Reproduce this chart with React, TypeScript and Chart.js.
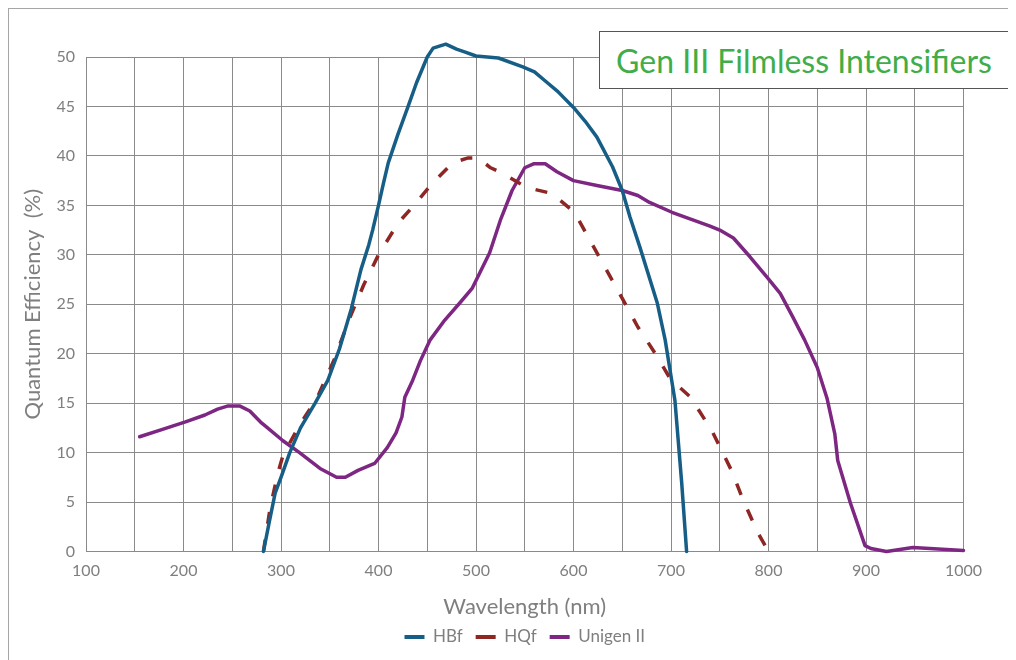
import React, { useEffect, useRef } from "react";
import { Chart, registerables } from "chart.js";

Chart.register(...registerables);

// ---- data (wavelength nm / quantum efficiency %) ----
const hbfNm = [282, 288, 294, 300, 309, 320, 335, 348, 360, 372, 382, 390, 394, 400, 405, 410, 420, 430, 439, 450, 456, 469, 480, 489, 500, 523, 548, 560, 572, 584, 600, 612, 624, 640, 650, 658, 668, 686, 694, 704, 711, 716];
const hbfQe = [0, 3, 5.9, 7.5, 10, 12.5, 15, 17.3, 20.5, 24.5, 28.5, 31, 32.5, 35, 37.2, 39.3, 42.2, 44.9, 47.4, 50, 50.9, 51.3, 50.8, 50.5, 50.1, 49.9, 49.0, 48.5, 47.5, 46.5, 44.9, 43.5, 41.9, 38.9, 36.5, 33.8, 30.8, 25.1, 21.4, 15.3, 6.9, 0];

const hqfNm = [282, 289, 297, 302, 319, 337, 355, 370, 385, 400, 420, 439, 455, 476, 492, 502, 515, 528, 552, 578, 601, 615, 632, 650, 666, 684, 699, 720, 742, 762, 774, 789, 800];
const hqfQe = [0, 4.5, 8, 9.7, 12.8, 15.5, 19.5, 23.5, 27, 30, 33.2, 35.3, 37.2, 39.3, 39.8, 39.8, 38.8, 38.2, 36.8, 36.2, 34.3, 31.8, 28.8, 25.6, 22.7, 20, 17.5, 15.6, 12.2, 8.2, 5.2, 1.9, 0];

const unigenNm = [155, 180, 202, 222, 235, 245, 258, 268, 280, 285, 302, 319, 340, 357, 366, 379, 396, 409, 418, 424, 427, 435, 443, 453, 468, 484, 496, 514, 525, 537, 550, 559, 571, 583, 600, 624, 650, 666, 678, 701, 723, 740, 750, 764, 781, 798, 812, 825, 837, 850, 860, 868, 871, 884, 899, 905, 921, 948, 1000];
const unigenQe = [11.6, 12.4, 13.1, 13.8, 14.4, 14.7, 14.7, 14.2, 13, 12.6, 11.2, 10, 8.4, 7.5, 7.5, 8.2, 8.9, 10.5, 12, 13.6, 15.6, 17.3, 19.3, 21.4, 23.4, 25.2, 26.6, 30.2, 33.5, 36.5, 38.8, 39.2, 39.2, 38.4, 37.5, 37, 36.5, 36, 35.3, 34.3, 33.5, 32.9, 32.5, 31.7, 29.8, 27.8, 26.1, 23.7, 21.4, 18.6, 15.5, 11.9, 9.2, 4.9, 0.6, 0.3, 0, 0.4, 0.1];

const seriesLabels = ["HBf", "HQf", "Unigen II"];
const chartTitle = "Gen III Filmless Intensifiers";
const xAxisTitle = "Wavelength (nm)";
const yAxisTitle = "Quantum Efficiency  (%)";
const xMin = 100;
const xMax = 1000;
const yMin = 0;
const yMax = 50;

const FONT = "Lato, 'Open Sans', sans-serif";
const TEXT = "#7f7f7f";
const GRID = "#8a8a8a";
const BLUE = "#175e87";
const RED = "#8e2623";
const PURPLE = "#7d2783";
const GREEN = "#41ad49";

const toPts = (xs: number[], ys: number[]) => xs.map((x, i) => ({ x, y: ys[i] }));

export default function App() {
  const ref = useRef<HTMLCanvasElement | null>(null);

  useEffect(() => {
    document.documentElement.style.overflow = "hidden";
    const canvas = ref.current;
    if (!canvas) return;
    const common = { pointRadius: 0, borderWidth: 3.5, tension: 0, borderJoinStyle: "round" as const, fill: false, clip: false as const };
    const chart = new Chart(canvas, {
      type: "line",
      data: {
        datasets: [
          { ...common, label: seriesLabels[0], data: toPts(hbfNm, hbfQe), borderColor: BLUE, backgroundColor: BLUE, borderCapStyle: "round" },
          { ...common, label: seriesLabels[1], data: toPts(hqfNm, hqfQe), borderColor: RED, backgroundColor: RED, borderDash: [12, 16], borderCapStyle: "butt" },
          { ...common, label: seriesLabels[2], data: toPts(unigenNm, unigenQe), borderColor: PURPLE, backgroundColor: PURPLE, borderCapStyle: "round" },
        ],
      },
      options: {
        responsive: false,
        maintainAspectRatio: false,
        animation: false,
        layout: { padding: { left: 0, top: 49, right: 52.5, bottom: 4.5 } },
        scales: {
          x: {
            type: "linear",
            min: xMin,
            max: xMax,
            ticks: {
              stepSize: 50,
              autoSkip: false,
              maxRotation: 0,
              color: TEXT,
              font: { family: FONT, size: 16 },
              padding: 10,
              callback: (v: any) => (Number(v) % 100 === 0 ? String(v) : ""),
            },
            grid: { color: GRID, drawTicks: false },
            border: { color: GRID },
            title: { display: true, text: xAxisTitle, color: TEXT, font: { family: FONT, size: 22 }, padding: { top: 0, bottom: -4.7 } },
            afterFit: (s: any) => {
              s.height = 64;
            },
          },
          y: {
            min: yMin,
            max: yMax,
            ticks: { stepSize: 5, color: TEXT, font: { family: FONT, size: 16 }, padding: 11 },
            grid: { color: GRID, drawTicks: false },
            border: { color: GRID },
            title: { display: true, text: yAxisTitle, color: TEXT, font: { family: FONT, size: 22 }, padding: { top: 11.8, bottom: 0 } },
            afterFit: (s: any) => {
              s.width = 78;
            },
          },
        },
        plugins: {
          tooltip: { enabled: false },
          legend: {
            position: "bottom",
            fullSize: false,
            labels: {
              usePointStyle: true,
              pointStyle: "line",
              pointStyleWidth: 20,
              boxHeight: 14,
              padding: 13,
              color: TEXT,
              font: { family: FONT, size: 17 },
              generateLabels: (c: any) => {
                const items = (Chart.defaults.plugins.legend.labels as any).generateLabels(c);
                items.forEach((it: any) => {
                  if (it.lineDash && it.lineDash.length) it.lineDash = [8, 4];
                  it.lineWidth = 4;
                  it.lineCap = "butt";
                });
                return items;
              },
            },
          },
        },
      },
    });
    return () => chart.destroy();
  }, []);

  return (
    <div style={{ position: "relative", width: 1008, height: 652, overflow: "hidden" }}>
      <canvas ref={ref} width={1008} height={652} style={{ display: "block", width: 1008, height: 652 }} />
      <div
        style={{
          position: "absolute",
          left: 0,
          top: 0,
          width: 1100,
          height: 800,
          border: "1px solid #a6a6a6",
          pointerEvents: "none",
        }}
      />
      <div
        style={{
          position: "absolute",
          left: 591,
          top: 23,
          width: 410,
          height: 58,
          boxSizing: "border-box",
          border: "1.5px solid #555",
          background: "#fff",
          color: GREEN,
          fontFamily: FONT,
          fontSize: 32,
          display: "flex",
          alignItems: "center",
          justifyContent: "center",
          whiteSpace: "nowrap",
        }}
      >
        {chartTitle}
      </div>
    </div>
  );
}
